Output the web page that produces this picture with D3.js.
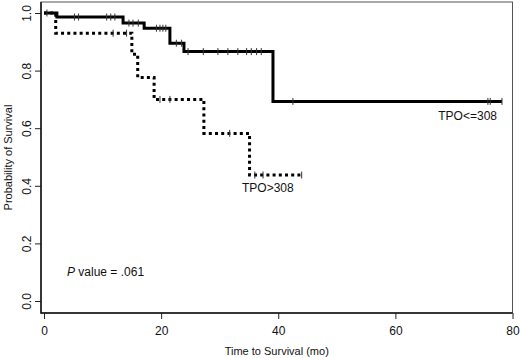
<!DOCTYPE html>
<html>
<head>
<meta charset="utf-8">
<script src="https://cdn.jsdelivr.net/npm/d3@7"></script>
<style>
  body { margin: 0; background: #fff; }
  text { font-family: "Liberation Sans", Arial, sans-serif; fill: #111; }
</style>
</head>
<body>
<svg id="km"></svg>
<script>
// Kaplan-Meier steps, TPO<=308 (solid)
const lowTimes = [0, 2.2, 13.5, 17.1, 21.5, 23.9, 39.1];
const lowSurv = [1.0, 0.986, 0.965, 0.947, 0.895, 0.866, 0.693];
const lowEnd = 78.2;
const lowCensor = [0.5, 5.2, 5.9, 10.7, 11.4, 12.1, 14.5, 15.2, 16.1, 19.2, 19.8, 20.3, 20.8,
    22.6, 23.5, 24.6, 27.2, 29.7, 31.4, 33.1, 34.6, 35.4, 36.3, 37.1, 42.5, 75.8, 76.2, 78.2];

// TPO>308 (dotted)
const highTimes = [0, 2.0, 15.0, 16.0, 18.8, 27.3, 35.1];
const highSurv = [1.0, 0.93, 0.857, 0.776, 0.70, 0.582, 0.4375];
const highEnd = 44.0;
const highCensor = [11.8, 14.1, 19.8, 21.5, 31.7, 36.0, 37.4, 44.0];

const xTicks = [0, 20, 40, 60, 80];
const yTicks = [0, 0.2, 0.4, 0.6, 0.8, 1.0];

const width = 520, height = 358;
const box = { left: 41, right: 512.5, top: 2, bottom: 313 };

const svg = d3.select("#km")
    .attr("width", width)
    .attr("height", height);

const x = d3.scaleLinear().domain([0, 80]).range([44, 512.5]);
const y = d3.scaleLinear().domain([0, 1]).range([301, 13]);

// step value at time t
function survAt(times, surv, t) {
    let v = surv[0];
    times.forEach((s, i) => { if (t >= s) v = surv[i]; });
    return v;
}

function stepPoints(times, surv, end) {
    const pts = times.map((t, i) => [t, surv[i]]);
    pts.push([end, surv[surv.length - 1]]);
    return pts;
}

const line = d3.line()
    .x(d => x(d[0]))
    .y(d => y(d[1]))
    .curve(d3.curveStepAfter);

// axes
const yAxis = svg.append("g")
    .attr("transform", `translate(${box.left},0)`)
    .call(d3.axisLeft(y).tickValues(yTicks).tickFormat(d3.format(".1f")).tickSizeOuter(0).tickSize(6));
yAxis.select(".domain").remove();
yAxis.selectAll("text")
    .attr("transform", "rotate(-90)")
    .attr("x", 0)
    .attr("y", -14)
    .attr("dy", "0.35em")
    .attr("text-anchor", "middle")
    .style("font-size", "12px");

const xAxis = svg.append("g")
    .attr("transform", `translate(0,${box.bottom})`)
    .call(d3.axisBottom(x).tickValues(xTicks).tickFormat(d3.format("d")).tickSizeOuter(0).tickSize(6).tickPadding(7));
xAxis.select(".domain").remove();
xAxis.selectAll("text").style("font-size", "12px");

svg.selectAll(".tick line").attr("stroke", "#222");

// frame
svg.append("rect")
    .attr("x", box.left)
    .attr("y", box.top)
    .attr("width", box.right - box.left)
    .attr("height", box.bottom - box.top)
    .attr("fill", "none")
    .attr("stroke", "#555")
    .attr("stroke-width", 1);
svg.append("path")
    .attr("d", `M${box.left},${box.top}V${box.bottom}H${box.right}`)
    .attr("fill", "none")
    .attr("stroke", "#111")
    .attr("stroke-width", 1.5);

// curves
svg.append("path")
    .attr("d", line(stepPoints(highTimes, highSurv, highEnd)))
    .attr("fill", "none")
    .attr("stroke", "#000")
    .attr("stroke-width", 3)
    .attr("stroke-dasharray", "3,3.2");

svg.append("path")
    .attr("d", line(stepPoints(lowTimes, lowSurv, lowEnd)))
    .attr("fill", "none")
    .attr("stroke", "#000")
    .attr("stroke-width", 3);

// censor marks
function censorMarks(times, surv, list) {
    svg.append("g").selectAll("line")
        .data(list)
        .enter().append("line")
        .attr("x1", d => x(d))
        .attr("x2", d => x(d))
        .attr("y1", d => y(survAt(times, surv, d)) - 3.5)
        .attr("y2", d => y(survAt(times, surv, d)) + 3.5)
        .attr("stroke", "#333")
        .attr("stroke-width", 1);
}
censorMarks(lowTimes, lowSurv, lowCensor);
censorMarks(highTimes, highSurv, highCensor);

// labels
svg.append("text")
    .attr("x", 497).attr("y", 120)
    .attr("text-anchor", "end")
    .style("font-size", "12px")
    .text("TPO<=308");

svg.append("text")
    .attr("x", 242).attr("y", 192)
    .style("font-size", "12px")
    .text("TPO>308");

const pText = svg.append("text")
    .attr("x", 67).attr("y", 276)
    .style("font-size", "12px");
pText.append("tspan").style("font-style", "italic").text("P");
pText.append("tspan").text(" value = .061");

svg.append("text")
    .attr("x", (box.left + box.right) / 2)
    .attr("y", 355)
    .attr("text-anchor", "middle")
    .style("font-size", "11px")
    .text("Time to Survival (mo)");

svg.append("text")
    .attr("transform", `translate(12,${(box.top + box.bottom) / 2}) rotate(-90)`)
    .attr("text-anchor", "middle")
    .style("font-size", "11px")
    .text("Probability of Survival");
</script>
</body>
</html>
